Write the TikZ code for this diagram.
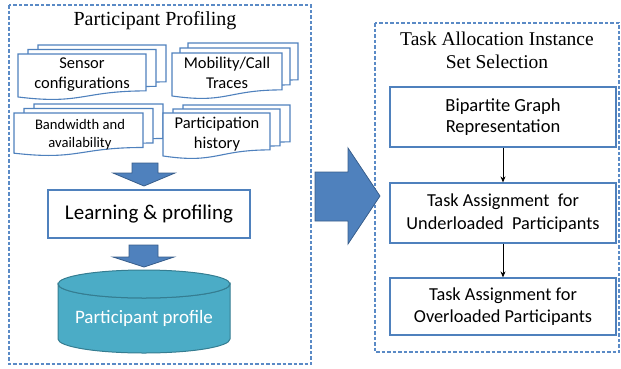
\documentclass[tikz,border=0pt]{standalone}
\usepackage{fontspec}
\setmainfont{Liberation Serif}
\newfontfamily\carlitofont{Carlito}
\usetikzlibrary{arrows.meta}
\definecolor{obl}{HTML}{4F81BD}
\definecolor{obd}{HTML}{385D8A}
\definecolor{aqua}{HTML}{4BACC6}
\definecolor{aquad}{HTML}{357D91}
\definecolor{dashc}{HTML}{5A8AC6}
\newcommand\docsheet[4]{%
  \draw[sheet] (#1,#2) -- ({#1+#3},#2) -- ({#1+#3},{#2+0.802*#4})
    .. controls ({#1+0.5*#3},{#2+0.802*#4}) and ({#1+0.5*#3},{#2+1.107*#4}) .. (#1,{#2+0.934*#4}) -- cycle;}
\newcommand\docstack[6]{% l t w h dx dy
  \docsheet{#1+2*#5}{#2+2*#6}{#3}{#4}
  \docsheet{#1+#5}{#2+#6}{#3}{#4}
  \docsheet{#1}{#2}{#3}{#4}}
\begin{document}
\begin{tikzpicture}[x=1pt,y=-1pt,
  sheet/.style={draw=obl,fill=white,line width=1.1pt},
  container/.style={draw=dashc,line width=1.1pt,dash pattern=on 3.5pt off 2pt},
  blockarrow/.style={fill=obl,draw=obd,line width=0.8pt},
  procbox/.style={draw=obl,fill=white,line width=1.2pt,align=center,inner sep=0pt},
  sheettext/.style={align=center,font=\carlitofont\fontsize{16.5}{20}\selectfont,inner sep=0pt},
  title/.style={align=center,font=\fontsize{20}{23}\selectfont,inner sep=0pt}]
\useasboundingbox (0,0) rectangle (621,368);
% containers
\draw[container] (9,5) rectangle (311,364);
\draw[container] (375,23) rectangle (619,352);
\node[title] (t1) at (155,21) {Participant Profiling};
\node[title,font=\fontsize{19.5}{23}\selectfont] (t2) at (497,50.5) {Task Allocation Instance\\Set Selection};
% document stacks
\docstack{18}{54}{128}{46}{10}{-4.5}
\docstack{172}{53}{110}{46}{8}{-5}
\docstack{14}{113}{129}{43}{10}{-4.5}
\docstack{163}{113}{107}{46}{10}{-4}
\node[sheettext] (s1) at (82,75) {Sensor\\configurations};
\node[sheettext] (s2) at (227,73) {Mobility/Call\\Traces};
\node[sheettext,font=\carlitofont\fontsize{14.6}{18}\selectfont] (s3) at (80,135) {Bandwidth and\\availability};
\node[sheettext] (s4) at (217,134.5) {Participation\\history};
% down arrows
\draw[blockarrow] (132,163) -- (158,163) -- (158,173) -- (175,173) -- (144,186) -- (113,173) -- (132,173) -- cycle;
\node[procbox,minimum width=202pt,minimum height=48pt,font=\carlitofont\fontsize{21}{23}\selectfont] (lp) at (149,214) {Learning \& profiling};
\draw[blockarrow] (129,245) -- (158,245) -- (158,257) -- (174,257) -- (144,267) -- (113,257) -- (129,257) -- cycle;
% cylinder
\draw[fill=aqua,draw=aquad,line width=1pt] (58,284) -- (58,339) arc[start angle=180,end angle=0,x radius=86,y radius=14] -- (230,284) arc[start angle=0,end angle=180,x radius=86,y radius=14] -- cycle;
\draw[fill=aqua,draw=aquad,line width=1pt] (144,284) ellipse[x radius=86,y radius=14];
\node[text=white,font=\carlitofont\fontsize{19}{20}\selectfont,inner sep=0pt] (pp) at (144,318) {Participant profile};
% big right arrow
\draw[blockarrow] (315,172) -- (348,172) -- (348,148) -- (380,196) -- (348,244) -- (348,221) -- (315,221) -- cycle;
% right boxes
\node[procbox,minimum width=226pt,minimum height=60pt,font=\carlitofont\fontsize{18.5}{21}\selectfont] (b1) at (503,117) {Bipartite Graph\\Representation};
\node[procbox,minimum width=226pt,minimum height=60pt,font=\carlitofont\fontsize{18.3}{23}\selectfont] (b2) at (503,213) {Task Assignment\ \ for\\Underloaded\ \ Participants};
\node[procbox,minimum width=226pt,minimum height=57pt,font=\carlitofont\fontsize{18.3}{22}\selectfont] (b3) at (503,306.5) {Task Assignment for\\Overloaded Participants};
\draw[-{Stealth[length=6pt,width=5pt]},line width=0.8pt] (b1) -- (b2);
\draw[-{Stealth[length=6pt,width=5pt]},line width=0.8pt] (b2) -- (b3);
\end{tikzpicture}
\end{document}
